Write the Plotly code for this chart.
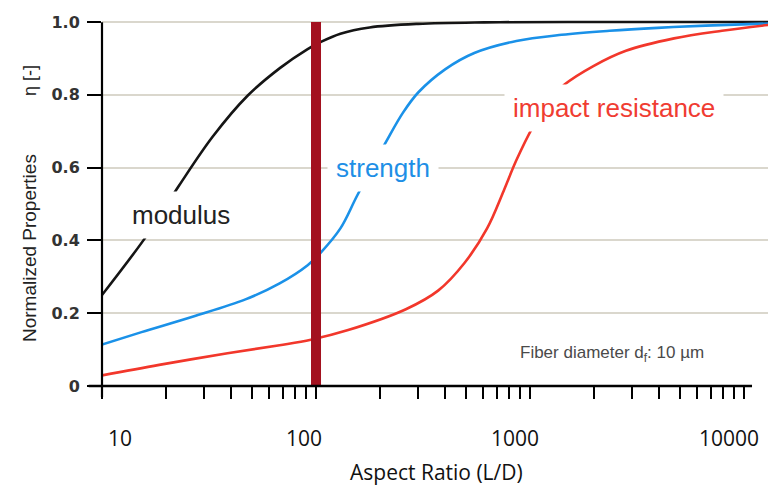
import math
import plotly.graph_objects as go

# Aspect ratio (L/D) samples and normalized property values for each curve
modulus_x = [10, 16.5, 23, 33, 48, 68, 91, 105, 130, 178, 300, 610, 1500, 13000]
modulus_y = [0.25, 0.42, 0.552, 0.686, 0.798, 0.874, 0.925, 0.945, 0.968, 0.985, 0.995, 0.999, 1.0, 1.0]

strength_x = [10, 15.3, 26.7, 46.8, 67.6, 91.4, 105, 130, 156, 213, 255, 301, 401, 549,
              863, 1406, 2355, 3945, 6620, 13000]
strength_y = [0.114, 0.148, 0.191, 0.238, 0.282, 0.332, 0.366, 0.433, 0.524, 0.672, 0.751,
              0.807, 0.870, 0.915, 0.948, 0.965, 0.976, 0.984, 0.990, 0.996]

impact_x = [10, 18.5, 38.6, 67.6, 94.6, 140, 263, 372, 494, 630, 753, 863, 1032, 1259,
            1449, 1977, 2806, 4710, 7890, 13000]
impact_y = [0.029, 0.058, 0.090, 0.112, 0.127, 0.153, 0.211, 0.262, 0.338, 0.433, 0.536,
            0.620, 0.712, 0.790, 0.828, 0.879, 0.921, 0.955, 0.976, 0.992]

# Critical aspect ratio marker
critical_ratio = 100
marker_span = [0, 1.0]

# Axis ticks
y_ticks = [0, 0.2, 0.4, 0.6, 0.8, 1.0]
y_tick_text = ["0", "0.2", "0.4", "0.6", "0.8", "1.0"]
x_ticks = [m * 10 ** e for e in (1, 2, 3) for m in range(1, 10)] + [10000]
decade_labels = ["10", "100", "1000", "10000"]
decade_label_pos = [0.027, 0.303, 0.620, 0.941]

# Curve labels: text, x, y, colour
curve_labels = [
    ("modulus", 23.4, 0.47, "#222222"),
    ("strength", 205, 0.60, "#1e8fe6"),
    ("impact resistance", 2455, 0.765, "#f03c32"),
]

BLACK = "#151515"
BLUE = "#1a91e8"
RED = "#f2372b"
BAR = "#a3111f"

fig = go.Figure()
for xs, ys, col in [(modulus_x, modulus_y, BLACK), (strength_x, strength_y, BLUE),
                    (impact_x, impact_y, RED)]:
    fig.add_trace(go.Scatter(x=xs, y=ys, mode="lines",
                             line=dict(color=col, width=2.6, shape="spline", smoothing=1.0),
                             hoverinfo="skip", showlegend=False))

fig.add_trace(go.Scatter(x=[critical_ratio, critical_ratio], y=marker_span, mode="lines",
                         line=dict(color=BAR, width=10), hoverinfo="skip", showlegend=False))

annotations = []
for text, x, y, col in curve_labels:
    annotations.append(dict(x=math.log10(x), y=y, xref="x", yref="y", text=text,
                            showarrow=False, bgcolor="white", borderpad=8,
                            font=dict(family="Liberation Sans, Arial, sans-serif", size=26, color=col)))

annotations.append(dict(x=3.381, y=0.088, xref="x", yref="y",
                        text="Fiber diameter d<sub>f</sub>: 10 \u00b5m", showarrow=False,
                        font=dict(family="Liberation Sans, Arial, sans-serif", size=17, color="#4a4a4a")))

for lab, px in zip(decade_labels, decade_label_pos):
    annotations.append(dict(x=px, y=-0.140, xref="paper", yref="paper", text=lab,
                            showarrow=False, xanchor="center", yanchor="middle",
                            font=dict(family="Open Sans, sans-serif", size=21, color="#111111")))

annotations.append(dict(x=0.503, y=-0.232, xref="paper", yref="paper", text="Aspect Ratio (L/D)",
                        showarrow=False, xanchor="center", yanchor="middle",
                        font=dict(family="Open Sans, sans-serif", size=21, color="#111111")))

annotations.append(dict(x=-0.108, y=0.371, xref="paper", yref="paper", text="Normalized Properties",
                        showarrow=False, textangle=-90, xanchor="center", yanchor="middle",
                        font=dict(family="Liberation Sans Narrow, Arial Narrow, Liberation Sans, sans-serif",
                                  size=19, color="#222222")))
annotations.append(dict(x=-0.108, y=0.820, xref="paper", yref="paper", text="\u03b7 [-]",
                        showarrow=False, textangle=-90, xanchor="center", yanchor="middle",
                        font=dict(family="Liberation Sans, Arial, sans-serif", size=18, color="#222222")))

shapes = [
    # x axis line
    dict(type="line", xref="paper", yref="paper", x0=-0.02, x1=0.976, y0=0, y1=0,
         line=dict(color="black", width=2.5)),
    # y axis line
    dict(type="line", xref="paper", yref="paper", x0=0, x1=0, y0=-0.03, y1=0.978,
         line=dict(color="black", width=2.2)),
]

fig.update_layout(
    width=768, height=491,
    margin=dict(l=102, r=0, t=14, b=105),
    paper_bgcolor="white", plot_bgcolor="white",
    showlegend=False,
    annotations=annotations,
    shapes=shapes,
    xaxis=dict(type="log", range=[1, 4.112], tickvals=x_ticks, showticklabels=False,
               ticks="outside", ticklen=12, tickwidth=2, tickcolor="black",
               showgrid=False, zeroline=False, showline=False),
    yaxis=dict(range=[0, 1.022], tickvals=y_ticks, ticktext=y_tick_text,
               ticks="outside", ticklen=14, tickwidth=2, tickcolor="black",
               ticklabelstandoff=4,
               tickfont=dict(family="DejaVu Sans, sans-serif", size=16, color="#333333", weight="bold"),
               showgrid=True, gridcolor="#dad7cd", gridwidth=2, zeroline=False, showline=False),
)

fig.write_html("out.html")
